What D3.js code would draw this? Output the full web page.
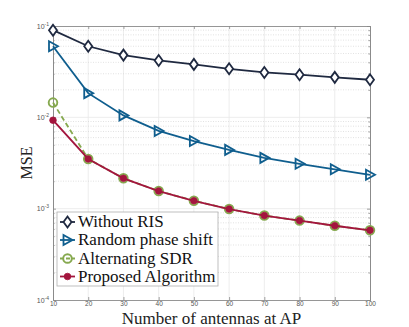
<!DOCTYPE html>
<html><head><meta charset="utf-8">
<script src="https://cdn.jsdelivr.net/npm/d3@7"></script>
<style>body{margin:0;background:#fff}svg{display:block}</style>
</head><body>
<script>
const antennas = [10,20,30,40,50,60,70,80,90,100];
const withoutRIS = [0.090,0.060,0.048,0.042,0.038,0.034,0.031,0.0293,0.0274,0.0258];
const randomPhase = [0.060,0.0184,0.0105,0.0071,0.0055,0.0044,0.0036,0.0031,0.0027,0.00235];
const alternatingSDR = [0.0145,0.0035,0.00215,0.00156,0.00122,0.00099,0.00084,0.00074,0.00065,0.00058];
const proposed = [0.0093,0.0035,0.00215,0.00156,0.00122,0.00099,0.00084,0.00074,0.00065,0.00058];
const xTicks = [10,20,30,40,50,60,70,80,90,100];
const yTickExps = [-4,-3,-2,-1];
const seriesNames = ["Without RIS","Random phase shift","Alternating SDR","Proposed Algorithm"];

const W=409,H=327;
const svg=d3.select("body").append("svg").attr("width",W).attr("height",H);
const L=53,R=370,T=26,B=300;
const x=d3.scaleLinear().domain([10,100]).range([L,R]);
const y=d3.scaleLog().domain([1e-4,1e-1]).range([B,T]);

// grid
const g=svg.append("g");
xTicks.forEach(t=>{ if(t>10&&t<100) g.append("line").attr("x1",x(t)).attr("x2",x(t)).attr("y1",T).attr("y2",B).attr("stroke","#e8e8e8").attr("stroke-width",0.8); });
const minors=[];
for(let e=-4;e<-1;e++){ for(let m=2;m<=9;m++) minors.push(m*Math.pow(10,e)); }
minors.forEach(v=>g.append("line").attr("x1",L).attr("x2",R).attr("y1",y(v)).attr("y2",y(v)).attr("stroke","#d6d6d6").attr("stroke-width",0.7).attr("stroke-dasharray","1,1.5"));
yTickExps.forEach(e=>{ const v=Math.pow(10,e); if(e>-4&&e<-1) g.append("line").attr("x1",L).attr("x2",R).attr("y1",y(v)).attr("y2",y(v)).attr("stroke","#e8e8e8").attr("stroke-width",0.8); });

// axes with inward ticks
const axCol="#8a8a8a";
const xb=svg.append("g").attr("transform",`translate(0,${B})`).call(d3.axisBottom(x).tickValues(xTicks).tickSize(-3).tickFormat(d3.format("d")).tickPadding(1.5));
const xt=svg.append("g").attr("transform",`translate(0,${T})`).call(d3.axisTop(x).tickValues(xTicks).tickSize(-3).tickFormat(""));
const yl=svg.append("g").attr("transform",`translate(${L},0)`).call(d3.axisLeft(y).tickValues(yTickExps.map(e=>Math.pow(10,e))).tickSize(-3).tickFormat(""));
const yr=svg.append("g").attr("transform",`translate(${R},0)`).call(d3.axisRight(y).tickValues(yTickExps.map(e=>Math.pow(10,e))).tickSize(-3).tickFormat(""));
const ylm=svg.append("g").attr("transform",`translate(${L},0)`).call(d3.axisLeft(y).tickValues(minors).tickSize(-1.6).tickFormat(""));
const yrm=svg.append("g").attr("transform",`translate(${R},0)`).call(d3.axisRight(y).tickValues(minors).tickSize(-1.6).tickFormat(""));
[xb,xt,yl,yr,ylm,yrm].forEach(a=>{a.selectAll("path").attr("stroke",axCol).attr("stroke-width",0.9);a.selectAll("line").attr("stroke",axCol).attr("stroke-width",0.8);});
xb.selectAll("text").attr("fill","#555").style("font-family","Liberation Sans, Arial").style("font-size","6.5px");

// y tick labels with superscripts
yTickExps.forEach(e=>{
  const t=svg.append("text").attr("x",L-4).attr("y",y(Math.pow(10,e))+2.5).attr("text-anchor","end")
    .attr("fill","#555").style("font-family","Liberation Sans, Arial").style("font-size","7px");
  t.append("tspan").text("10");
  t.append("tspan").attr("dy",-3).style("font-size","5px").text(String(e));
});

// series
const colors=["#1f2940","#0f5e8e","#86a94f","#a3153d"];
const data=[withoutRIS,randomPhase,alternatingSDR,proposed];
const line=d3.line().x((d,i)=>x(antennas[i])).y(d=>y(d));

function marker(sel,k,cx,cy){
  const c=colors[k];
  if(k===0){ sel.append("path").attr("d",`M${cx},${cy-5.5}L${cx+4},${cy}L${cx},${cy+5.5}L${cx-4},${cy}Z`).attr("fill","#fff").attr("stroke",c).attr("stroke-width",1.8); }
  else if(k===1){ sel.append("path").attr("d",`M${cx-4},${cy-5}L${cx+5},${cy}L${cx-4},${cy+5}Z`).attr("fill","#fff").attr("fill-opacity",0).attr("stroke",c).attr("stroke-width",1.8); }
  else if(k===2){ sel.append("circle").attr("cx",cx).attr("cy",cy).attr("r",4.3).attr("fill","none").attr("stroke",c).attr("stroke-width",1.9); }
  else { sel.append("circle").attr("cx",cx).attr("cy",cy).attr("r",3.3).attr("fill",c).attr("stroke",c).attr("stroke-width",0.8); }
}

const order=[2,0,1,3];
order.forEach(k=>{
  const gs=svg.append("g");
  gs.append("path").attr("d",line(data[k])).attr("fill","none").attr("stroke",colors[k]).attr("stroke-width",1.8)
    .attr("stroke-dasharray",k===2?"5,3":null);
  data[k].forEach((v,i)=>marker(gs,k,x(antennas[i]),y(v)));
});

// legend
const lg=svg.append("g");
lg.append("rect").attr("x",57).attr("y",212).attr("width",161).attr("height",74).attr("fill","#fff").attr("stroke","#b0b0b0").attr("stroke-width",0.8);
const ly=[222,240,258.5,276.5];
seriesNames.forEach((n,k)=>{
  lg.append("line").attr("x1",60).attr("x2",75).attr("y1",ly[k]).attr("y2",ly[k]).attr("stroke",colors[k]).attr("stroke-width",1.8).attr("stroke-dasharray",k===2?"4,2":null);
  marker(lg,k,67.5,ly[k]);
  lg.append("text").attr("x",78).attr("y",ly[k]+5).text(n).attr("fill","#111").style("font-family","Liberation Serif, serif").style("font-size","17px");
});

// axis labels
svg.append("text").attr("x",(L+R)/2).attr("y",323.5).attr("text-anchor","middle").text("Number of antennas at AP").attr("fill","#222").style("font-family","Liberation Serif, serif").style("font-size","17px");
svg.append("text").attr("transform",`translate(32,${(T+B)/2}) rotate(-90)`).attr("text-anchor","middle").text("MSE").attr("fill","#222").style("font-family","Liberation Serif, serif").style("font-size","16px");
</script>
</body></html>
